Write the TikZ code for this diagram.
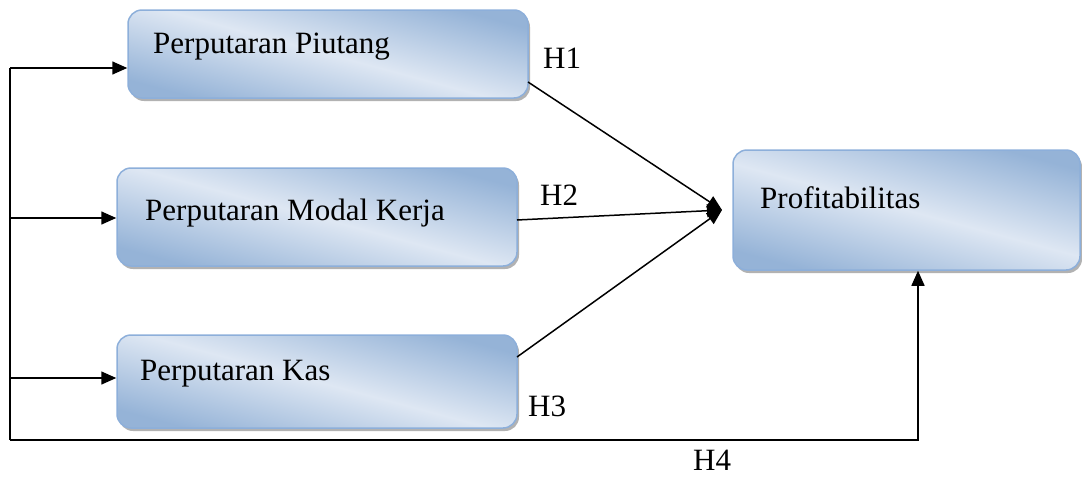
\documentclass[tikz,border=0pt]{standalone}
\usepackage{fontspec}
\setmainfont{Liberation Serif}
\usetikzlibrary{arrows.meta,shadows}
\definecolor{bdark}{RGB}{149,179,215}
\definecolor{blight}{RGB}{222,231,243}
\definecolor{bborder}{RGB}{141,175,218}
\begin{document}
\begin{tikzpicture}[x=1pt,y=-1pt,
  box/.style={draw=bborder, line width=1.5pt, rounded corners=14pt,
    top color=bdark, bottom color=bdark, middle color=blight, shading angle=-15,
    drop shadow={shadow xshift=2pt, shadow yshift=-3pt, fill=gray!60, opacity=1},
    inner sep=0pt},
  lbl/.style={font=\fontsize{31}{36}\selectfont, anchor=base west, inner sep=0pt},
  con/.style={line width=1.5pt, -{Triangle[length=15pt,width=13pt]}},
  ln/.style={line width=1.5pt}]
\useasboundingbox (0,0) rectangle (1082,493);
\node[box, minimum width=400pt, minimum height=88pt] (b1) at (328,54) {};
\node[box, minimum width=400pt, minimum height=98pt] (b2) at (317,217) {};
\node[box, minimum width=400pt, minimum height=93pt] (b3) at (317,381.5) {};
\node[box, minimum width=347pt, minimum height=120pt] (b4) at (906.5,210) {};
\node[lbl] (t1) at (153,53) {Perputaran Piutang};
\node[lbl] (t2) at (145,220) {Perputaran Modal Kerja};
\node[lbl] (t3) at (140,380) {Perputaran Kas};
\node[lbl] (t4) at (760,208) {Profitabilitas};
\node[lbl] (h1) at (543,68) {H1};
\node[lbl] (h2) at (540,205) {H2};
\node[lbl] (h3) at (528,416) {H3};
\node[lbl] (h4) at (693,470) {H4};
\coordinate (top) at (10,68);
\coordinate (m2) at (10,218);
\coordinate (m3) at (10,378);
\coordinate (bot) at (10,440);
\coordinate (corner) at (918,440);
\coordinate (e1) at (528,82);
\coordinate (e2) at (517,220);
\coordinate (e3) at (517,357);
\coordinate (hub) at (722,210);
\draw[ln] (top) -- (bot);
\draw[con] (top) -- (top -| b1.west);
\draw[con] (m2) -- (m2 -| b2.west);
\draw[con] (m3) -- (m3 -| b3.west);
\draw[con] (bot) -- (corner) -- (corner |- b4.south);
\draw[con] (e1) -- (hub);
\draw[con] (e2) -- (hub);
\draw[con] (e3) -- (hub);
\end{tikzpicture}
\end{document}
